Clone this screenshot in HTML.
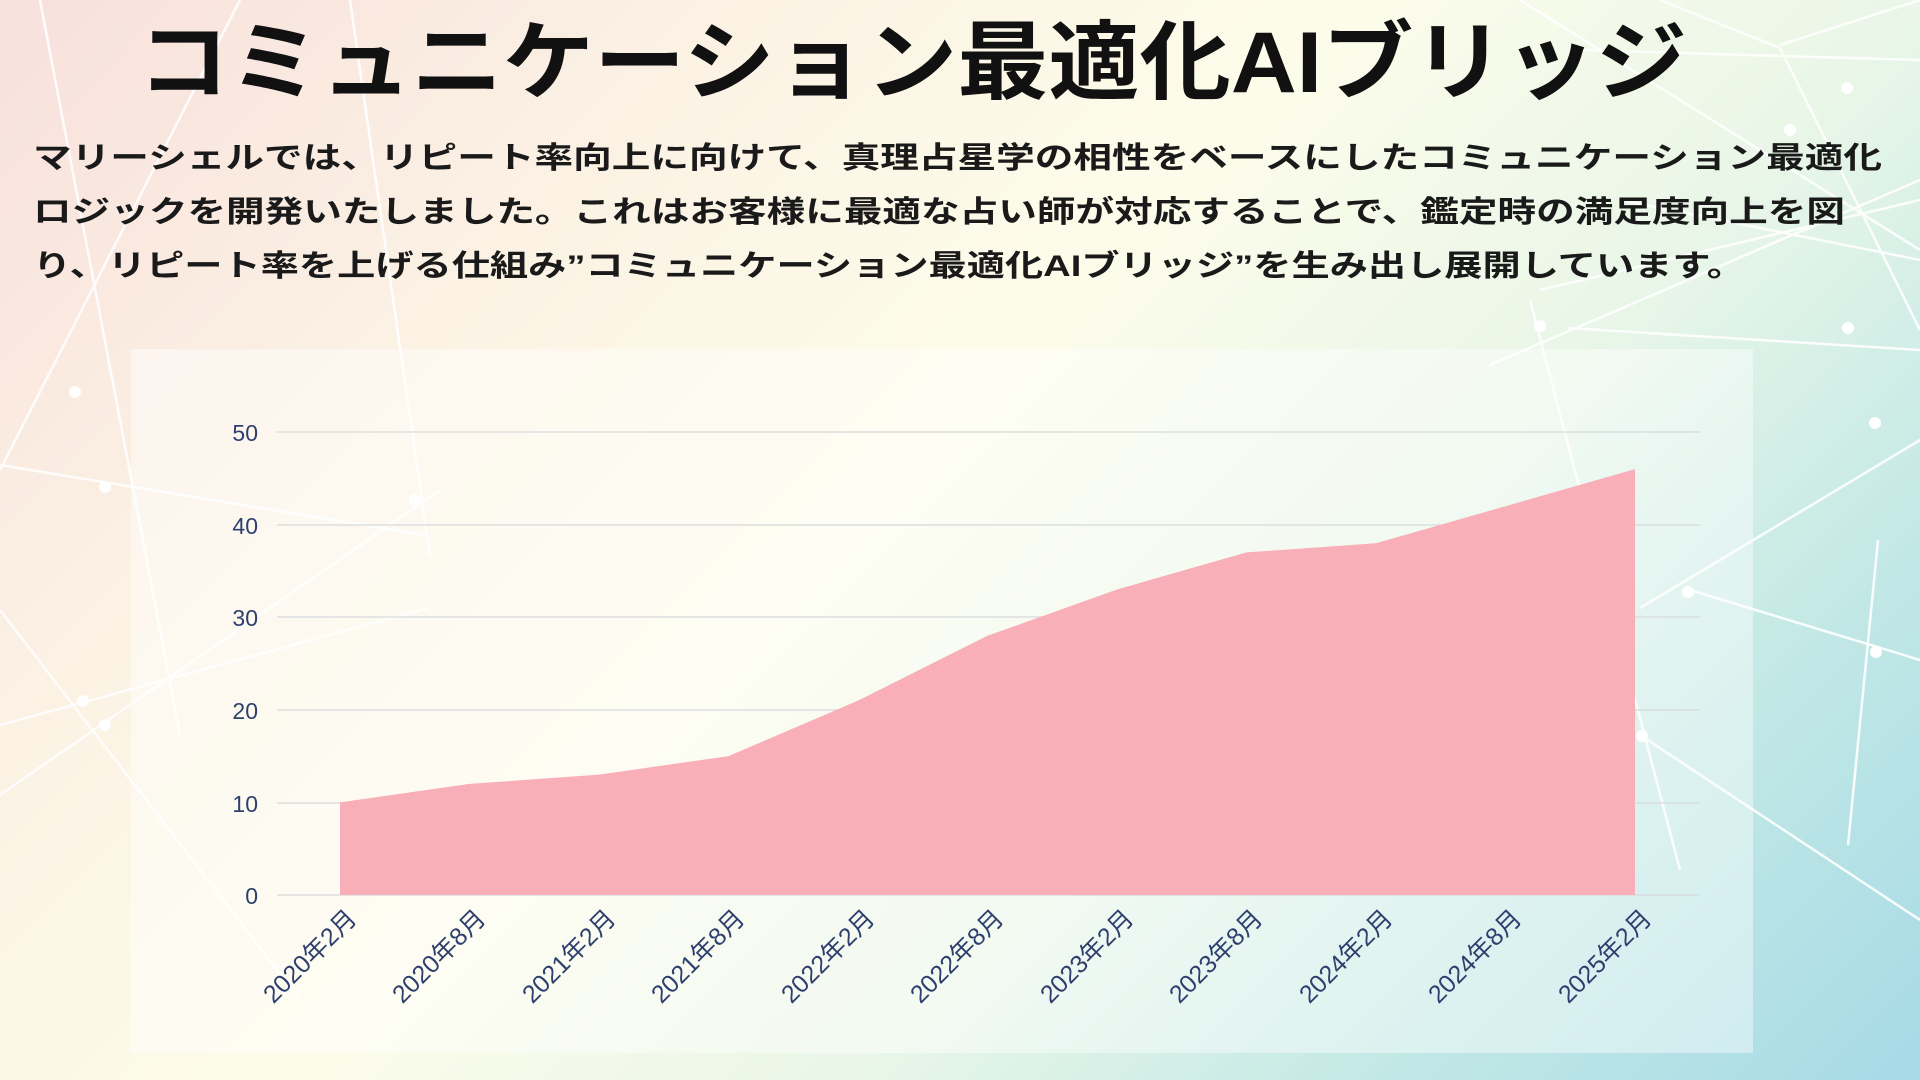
<!DOCTYPE html>
<html><head><meta charset="utf-8"><style>
html,body{margin:0;padding:0;width:1920px;height:1080px;overflow:hidden}
body{background:linear-gradient(135deg,#f8e0dc 0%,#fbf2e4 25%,#fdfcea 45%,#e8f6e8 65%,#c2e8e6 82%,#a6dae6 100%)}
svg{position:absolute;left:0;top:0}
text{font-family:"Liberation Sans","Noto Sans CJK JP",sans-serif}
</style></head><body>
<svg width="1920" height="1080" viewBox="0 0 1920 1080">
<g stroke="#fff" stroke-width="2.5" fill="none" opacity="0.9">
<line x1="0" y1="465" x2="425" y2="535"/>
<line x1="0" y1="725" x2="428" y2="608"/>
<line x1="0" y1="795" x2="440" y2="490"/>
<line x1="0" y1="610" x2="300" y2="1000"/>
<line x1="40" y1="0" x2="180" y2="735"/>
<line x1="0" y1="470" x2="240" y2="0"/>
<line x1="350" y1="0" x2="430" y2="556"/>
<line x1="1520" y1="0" x2="1920" y2="250"/>
<line x1="1580" y1="50" x2="1920" y2="60"/>
<line x1="1780" y1="45" x2="1920" y2="0"/>
<line x1="1490" y1="365" x2="1920" y2="180"/>
<line x1="1568" y1="328" x2="1920" y2="350"/>
<line x1="1540" y1="290" x2="1920" y2="200"/>
<line x1="1780" y1="48" x2="1920" y2="330"/>
<line x1="1780" y1="48" x2="1660" y2="0"/>
<line x1="1530" y1="300" x2="1680" y2="870"/>
<line x1="1640" y1="608" x2="1920" y2="440"/>
<line x1="1690" y1="590" x2="1920" y2="660"/>
<line x1="1878" y1="540" x2="1848" y2="845"/>
<line x1="1640" y1="735" x2="1920" y2="920"/>
<line x1="1620" y1="200" x2="1920" y2="260"/>
</g>
<g fill="#fff">
<circle cx="75" cy="392" r="6"/><circle cx="105" cy="487" r="6"/><circle cx="83" cy="701" r="6"/><circle cx="105" cy="725" r="6"/><circle cx="415" cy="500" r="6"/><circle cx="1847" cy="88" r="6"/><circle cx="1848" cy="328" r="6"/><circle cx="1875" cy="423" r="6"/><circle cx="1688" cy="592" r="6"/><circle cx="1876" cy="652" r="6"/><circle cx="1540" cy="326" r="6"/><circle cx="1790" cy="130" r="6"/><circle cx="1642" cy="736" r="6"/>
</g>
<rect x="131" y="349" width="1622" height="704" fill="#ffffff" fill-opacity="0.42"/>
<text x="138" y="92" font-size="86" font-weight="bold" fill="#111" textLength="1549" lengthAdjust="spacingAndGlyphs">コミュニケーション最適化AIブリッジ</text>
<g font-size="30" font-weight="bold" fill="#1a1a1a">
<text x="33" y="168" textLength="1849" lengthAdjust="spacingAndGlyphs">マリーシェルでは、リピート率向上に向けて、真理占星学の相性をベースにしたコミュニケーション最適化</text>
<text x="33" y="222" textLength="1812" lengthAdjust="spacingAndGlyphs">ロジックを開発いたしました。これはお客様に最適な占い師が対応することで、鑑定時の満足度向上を図</text>
<text x="33" y="276" textLength="1712" lengthAdjust="spacingAndGlyphs">り、リピート率を上げる仕組み”コミュニケーション最適化AIブリッジ”を生み出し展開しています。</text>
</g>
<g stroke="#d6d9dc" stroke-width="1.2">
<line x1="277" y1="432" x2="1700" y2="432"/><line x1="277" y1="525" x2="1700" y2="525"/><line x1="277" y1="617" x2="1700" y2="617"/><line x1="277" y1="710" x2="1700" y2="710"/><line x1="277" y1="803" x2="1700" y2="803"/><line x1="277" y1="895" x2="1700" y2="895"/>
</g>
<polygon fill="#f8afb8" points="340,895 340,802.4 469.5,783.9 599,774.6 728.5,756.1 858,700.6 987.5,635.8 1117,589.5 1246.5,552.4 1376,543.2 1505.5,506.2 1635,469.1 1635,895"/>
<g font-size="23" fill="#2e3f6e" text-anchor="end">
<text x="258" y="441">50</text><text x="258" y="534">40</text><text x="258" y="626">30</text><text x="258" y="719">20</text><text x="258" y="812">10</text><text x="258" y="904">0</text>
</g>
<g font-size="25" fill="#2e3f6e" text-anchor="end">
<text transform="translate(358,920) rotate(-45)">2020年2月</text>
<text transform="translate(487,920) rotate(-45)">2020年8月</text>
<text transform="translate(617,920) rotate(-45)">2021年2月</text>
<text transform="translate(746,920) rotate(-45)">2021年8月</text>
<text transform="translate(876,920) rotate(-45)">2022年2月</text>
<text transform="translate(1005,920) rotate(-45)">2022年8月</text>
<text transform="translate(1135,920) rotate(-45)">2023年2月</text>
<text transform="translate(1264,920) rotate(-45)">2023年8月</text>
<text transform="translate(1394,920) rotate(-45)">2024年2月</text>
<text transform="translate(1523,920) rotate(-45)">2024年8月</text>
<text transform="translate(1653,920) rotate(-45)">2025年2月</text>
</g>
</svg>
</body></html>
